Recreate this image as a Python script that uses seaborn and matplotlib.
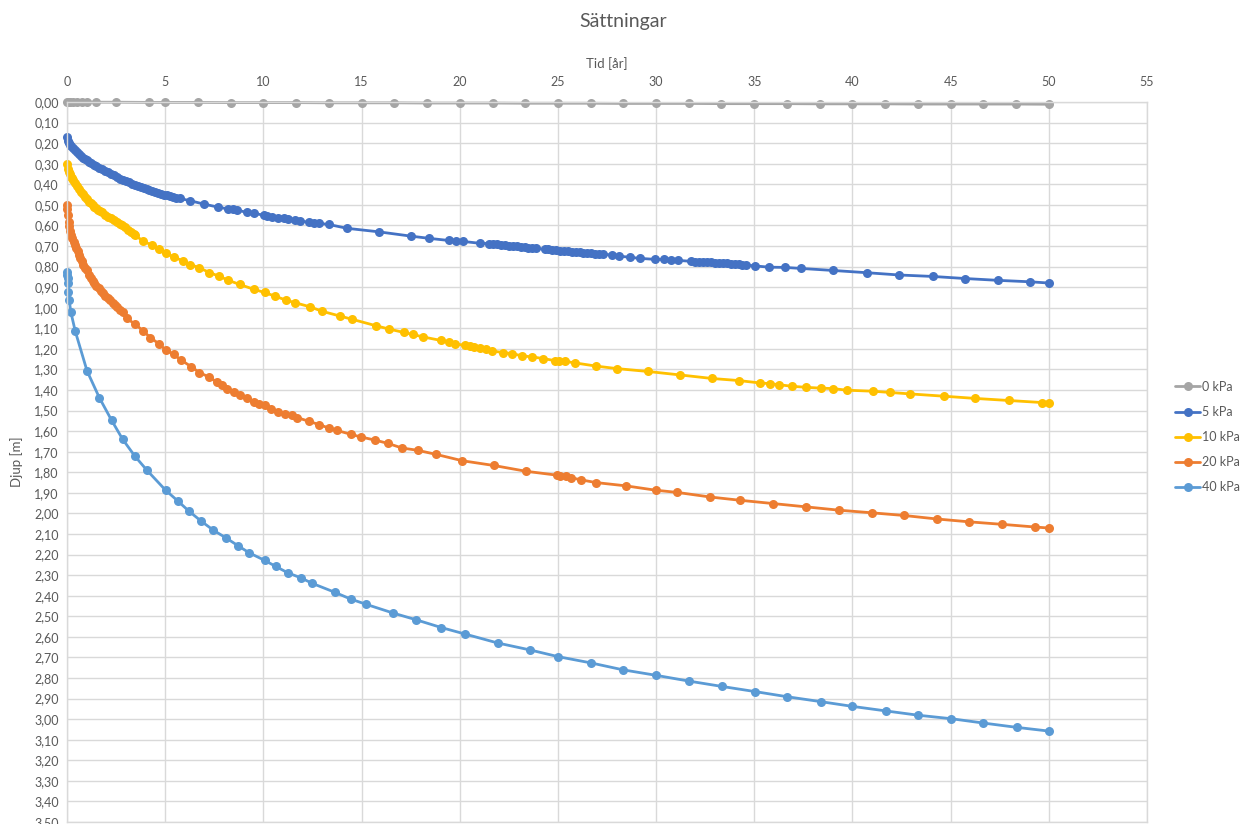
import numpy as np
import pandas as pd
import matplotlib
matplotlib.use("Agg")
import matplotlib.pyplot as plt
from matplotlib.ticker import FuncFormatter, MultipleLocator
import seaborn as sns

# -----------------------------
# DATA
# -----------------------------
series_names = ["0 kPa", "5 kPa", "10 kPa", "20 kPa", "40 kPa"]
series_colors = ["#A5A5A5", "#4472C4", "#FFC000", "#ED7D31", "#5B9BD5"]

t_0kpa = [0, 0.08, 0.17, 0.33, 0.5, 0.75, 1.0, 1.5, 2.5, 4.17, 5.0, 6.67, 8.33, 10.0,
          11.67, 13.33, 15.0, 16.67, 18.33, 20.0, 21.67, 23.33, 25.0, 26.67, 28.33, 30.0,
          31.67, 33.33, 35.0, 36.67, 38.33, 40.0, 41.67, 43.33, 45.0, 46.67, 48.33, 50.0]
d_0kpa = [0, 0, 0, 0, 0, 0, 0, 0.001, 0.001, 0.002, 0.002, 0.002, 0.003, 0.003,
          0.003, 0.004, 0.004, 0.004, 0.005, 0.005, 0.005, 0.006, 0.006, 0.006, 0.007, 0.007,
          0.007, 0.008, 0.008, 0.008, 0.009, 0.009, 0.009, 0.010, 0.010, 0.010, 0.010, 0.011]

t_5kpa = [0, 0.05, 0.1, 0.15, 0.2, 0.3, 0.4, 0.5, 0.6, 0.7, 0.8, 0.9, 1.0, 1.1, 1.2, 1.35,
          1.5, 1.65, 1.8, 1.95, 2.1, 2.25, 2.4, 2.55, 2.7, 2.85, 3.0, 3.15, 3.3, 3.45, 3.6,
          3.75, 3.9, 4.05, 4.2, 4.35, 4.5, 4.65, 4.8, 4.95, 5.1, 5.25, 5.4, 5.55, 5.77, 6.28,
          6.96, 7.69, 8.2, 8.43, 8.66, 9.16, 9.5, 10.01, 10.18, 10.44, 10.77, 11.03, 11.28,
          11.62, 11.88, 12.3, 12.56, 12.81, 13.32, 14.26, 15.87, 17.51, 18.46, 19.43, 19.82,
          20.19, 21.04, 21.47, 21.7, 21.9, 22.1, 22.3, 22.5, 22.7, 22.9, 23.1, 23.3, 23.5,
          23.7, 23.9, 24.32, 24.5, 24.7, 24.9, 25.1, 25.3, 25.5, 25.7, 25.9, 26.1, 26.3, 26.5,
          26.7, 26.9, 27.1, 27.3, 27.75, 28.1, 28.68, 29.16, 29.95, 30.38, 30.77, 31.14, 31.8,
          32.0, 32.2, 32.4, 32.6, 32.8, 33.0, 33.2, 33.4, 33.6, 33.8, 34.0, 34.2, 34.4, 34.6,
          35.05, 35.77, 36.54, 37.37, 39.03, 40.76, 42.39, 44.09, 45.72, 47.42, 49.05, 50.0]
d_5kpa = [0.170, 0.190, 0.200, 0.208, 0.215, 0.226, 0.235, 0.245, 0.254, 0.262, 0.270, 0.277,
          0.284, 0.290, 0.296, 0.304, 0.312, 0.319, 0.326, 0.335, 0.341, 0.350, 0.357, 0.364,
          0.372, 0.379, 0.385, 0.391, 0.397, 0.403, 0.409, 0.415, 0.420, 0.424, 0.428, 0.432,
          0.436, 0.441, 0.446, 0.450, 0.454, 0.458, 0.462, 0.465, 0.469, 0.480, 0.496, 0.511,
          0.520, 0.522, 0.525, 0.537, 0.541, 0.550, 0.554, 0.558, 0.563, 0.566, 0.569, 0.574,
          0.579, 0.584, 0.587, 0.590, 0.595, 0.614, 0.631, 0.652, 0.663, 0.673, 0.678, 0.678,
          0.687, 0.688, 0.690, 0.692, 0.694, 0.696, 0.698, 0.700, 0.702, 0.704, 0.706, 0.708,
          0.710, 0.711, 0.716, 0.717, 0.719, 0.721, 0.722, 0.724, 0.725, 0.727, 0.729, 0.731,
          0.733, 0.734, 0.736, 0.738, 0.739, 0.741, 0.743, 0.749, 0.755, 0.760, 0.765, 0.765,
          0.770, 0.770, 0.775, 0.776, 0.777, 0.778, 0.779, 0.780, 0.781, 0.782, 0.783, 0.785,
          0.786, 0.787, 0.789, 0.790, 0.792, 0.797, 0.803, 0.804, 0.809, 0.819, 0.830, 0.841,
          0.848, 0.858, 0.867, 0.874, 0.880]

t_10kpa = [0, 0.05, 0.1, 0.15, 0.2, 0.25, 0.3, 0.4, 0.5, 0.6, 0.7, 0.8, 0.9, 1.0, 1.1, 1.2,
           1.3, 1.4, 1.5, 1.6, 1.7, 1.8, 1.95, 2.1, 2.25, 2.4, 2.55, 2.7, 2.8, 2.95, 3.1, 3.25,
           3.39, 3.48, 3.87, 4.33, 4.70, 5.04, 5.43, 5.89, 6.28, 6.74, 7.25, 7.75, 8.2, 8.79,
           9.5, 10.06, 10.57, 11.15, 11.59, 12.39, 12.98, 13.88, 14.51, 15.75, 16.41, 17.14,
           17.62, 18.13, 19.04, 19.43, 19.77, 20.28, 20.54, 20.74, 21.04, 21.35, 21.64, 22.2,
           22.66, 23.17, 23.68, 24.24, 24.83, 25.04, 25.34, 25.85, 26.96, 28.01, 29.59, 31.24,
           32.85, 34.2, 35.31, 35.78, 36.24, 36.92, 37.65, 38.39, 39.0, 39.72, 41.07, 41.92,
           42.94, 44.64, 46.26, 47.96, 49.66, 50.0]
d_10kpa = [0.300, 0.325, 0.340, 0.352, 0.363, 0.371, 0.380, 0.395, 0.410, 0.424, 0.437, 0.448,
           0.461, 0.473, 0.485, 0.493, 0.500, 0.508, 0.515, 0.523, 0.530, 0.537, 0.550, 0.558,
           0.566, 0.574, 0.583, 0.592, 0.598, 0.609, 0.620, 0.631, 0.641, 0.648, 0.676, 0.696,
           0.715, 0.736, 0.753, 0.772, 0.790, 0.806, 0.829, 0.847, 0.866, 0.887, 0.910, 0.926,
           0.943, 0.963, 0.975, 0.996, 1.017, 1.040, 1.056, 1.088, 1.104, 1.120, 1.130, 1.142,
           1.159, 1.166, 1.176, 1.183, 1.185, 1.190, 1.195, 1.203, 1.210, 1.218, 1.223, 1.234,
           1.239, 1.247, 1.257, 1.257, 1.260, 1.268, 1.284, 1.296, 1.310, 1.327, 1.344, 1.354,
           1.366, 1.369, 1.374, 1.382, 1.387, 1.391, 1.393, 1.401, 1.406, 1.412, 1.419, 1.430,
           1.441, 1.451, 1.461, 1.461]

t_20kpa = [0, 0.02, 0.05, 0.08, 0.12, 0.17, 0.22, 0.28, 0.34, 0.4, 0.47, 0.54, 0.61, 0.68,
           0.76, 0.84, 0.92, 1.0, 1.1, 1.2, 1.3, 1.4, 1.5, 1.61, 1.72, 1.84, 1.96, 2.08, 2.2,
           2.32, 2.44, 2.56, 2.68, 2.83, 3.05, 3.48, 3.87, 4.24, 4.66, 5.04, 5.43, 5.82, 6.33,
           6.74, 7.21, 7.64, 7.89, 8.15, 8.48, 8.83, 9.16, 9.5, 9.76, 10.06, 10.4, 10.74, 11.08,
           11.46, 11.71, 12.32, 12.83, 13.34, 13.73, 14.44, 14.95, 15.71, 16.36, 17.06, 17.85,
           18.8, 20.14, 21.74, 23.37, 24.95, 25.12, 25.41, 25.66, 26.19, 26.94, 28.47, 29.97,
           31.09, 32.74, 34.27, 35.96, 37.63, 39.29, 40.99, 42.63, 44.3, 45.96, 47.62, 49.29, 50.0]
d_20kpa = [0.500, 0.520, 0.550, 0.582, 0.605, 0.625, 0.645, 0.662, 0.680, 0.695, 0.710, 0.726,
           0.743, 0.760, 0.775, 0.790, 0.805, 0.818, 0.841, 0.855, 0.868, 0.880, 0.893, 0.906,
           0.918, 0.930, 0.941, 0.952, 0.963, 0.975, 0.987, 0.998, 1.009, 1.023, 1.052, 1.081,
           1.112, 1.145, 1.174, 1.206, 1.227, 1.255, 1.287, 1.315, 1.336, 1.362, 1.377, 1.393,
           1.409, 1.425, 1.441, 1.458, 1.466, 1.471, 1.490, 1.507, 1.515, 1.523, 1.534, 1.552,
           1.568, 1.585, 1.596, 1.615, 1.628, 1.644, 1.660, 1.682, 1.693, 1.713, 1.744, 1.767,
           1.795, 1.814, 1.819, 1.819, 1.826, 1.837, 1.850, 1.866, 1.887, 1.898, 1.920, 1.936,
           1.952, 1.968, 1.984, 1.997, 2.010, 2.027, 2.041, 2.053, 2.066, 2.071]

t_40kpa = [0, 0.01, 0.03, 0.05, 0.07, 0.11, 0.2, 0.42, 1.02, 1.65, 2.27, 2.83, 3.46, 4.07,
           5.02, 5.65, 6.21, 6.84, 7.46, 8.08, 8.71, 9.27, 10.06, 10.62, 11.23, 11.93, 12.49,
           13.63, 14.44, 15.24, 16.6, 17.78, 19.07, 20.26, 21.94, 23.6, 25.0, 26.7, 28.3, 30.0,
           31.67, 33.35, 35.04, 36.67, 38.39, 40.0, 41.7, 43.35, 45.04, 46.67, 48.37, 50.0]
d_40kpa = [0.825, 0.841, 0.857, 0.882, 0.922, 0.963, 1.023, 1.114, 1.307, 1.438, 1.547, 1.639,
           1.722, 1.790, 1.887, 1.940, 1.989, 2.038, 2.082, 2.118, 2.157, 2.191, 2.228, 2.257,
           2.288, 2.314, 2.340, 2.383, 2.416, 2.442, 2.484, 2.517, 2.555, 2.586, 2.630, 2.664,
           2.696, 2.727, 2.760, 2.787, 2.815, 2.841, 2.866, 2.891, 2.915, 2.938, 2.960, 2.981,
           2.998, 3.019, 3.040, 3.058]

# -----------------------------
# LONG TABLE FOR SEABORN
# -----------------------------
parts = []
for name, t, d in zip(series_names,
                      [t_0kpa, t_5kpa, t_10kpa, t_20kpa, t_40kpa],
                      [d_0kpa, d_5kpa, d_10kpa, d_20kpa, d_40kpa]):
    parts.append(pd.DataFrame({"Tid": t, "Djup": d, "Serie": name}))
df = pd.concat(parts, ignore_index=True)

# -----------------------------
# STYLE
# -----------------------------
sns.set_theme(style="white")
plt.rcParams["font.family"] = ["Lato", "DejaVu Sans"]
text_color = "#595959"
grid_color = "#D9D9D9"

fig = plt.figure(figsize=(12.46, 8.24), dpi=100)
ax = fig.add_axes([67 / 1246, 1 - 822 / 824, (1147 - 67) / 1246, (822 - 102) / 824])

sns.lineplot(data=df, x="Tid", y="Djup", hue="Serie", hue_order=series_names,
             palette=series_colors, estimator=None, sort=False, marker="o",
             markersize=6.5, markeredgewidth=0, linewidth=2.0, ax=ax, legend=True)

# markers at x=0 should not be cut by the axes edge (like Excel)
for line in ax.lines:
    line.set_clip_on(False)

# -----------------------------
# AXES
# -----------------------------
ax.set_xlim(0, 55)
ax.set_ylim(3.5, 0)
ax.xaxis.set_major_locator(MultipleLocator(5))
ax.yaxis.set_major_locator(MultipleLocator(0.1))
ax.yaxis.set_major_formatter(FuncFormatter(lambda v, p: f"{v:.2f}".replace(".", ",")))
ax.xaxis.tick_top()
ax.xaxis.set_label_position("top")
ax.tick_params(length=0, labelsize=9, colors=text_color)
ax.tick_params(axis="x", pad=10)
ax.tick_params(axis="y", pad=6)
ax.grid(True, color=grid_color, linewidth=1.0)
ax.set_axisbelow(True)
for s in ax.spines.values():
    s.set_color(grid_color)
    s.set_linewidth(1.0)

ax.set_xlabel("Tid [år]", fontsize=9.5, color=text_color, labelpad=6)
ax.set_ylabel("Djup [m]", fontsize=9.5, color=text_color, labelpad=8)

fig.suptitle("Sättningar", x=0.5, y=1 - 22 / 824, va="center", fontsize=14, color=text_color)

# -----------------------------
# LEGEND
# -----------------------------
handles, labels = ax.get_legend_handles_labels()
ax.get_legend().remove()
fig.legend(handles, labels, loc="center left", bbox_to_anchor=(1170 / 1246, 1 - 437 / 824),
           frameon=False, fontsize=9, labelcolor=text_color, handlelength=2.0,
           handletextpad=0.2, labelspacing=1.05, borderaxespad=0)

plt.savefig("out.png", dpi=100)
plt.close()
